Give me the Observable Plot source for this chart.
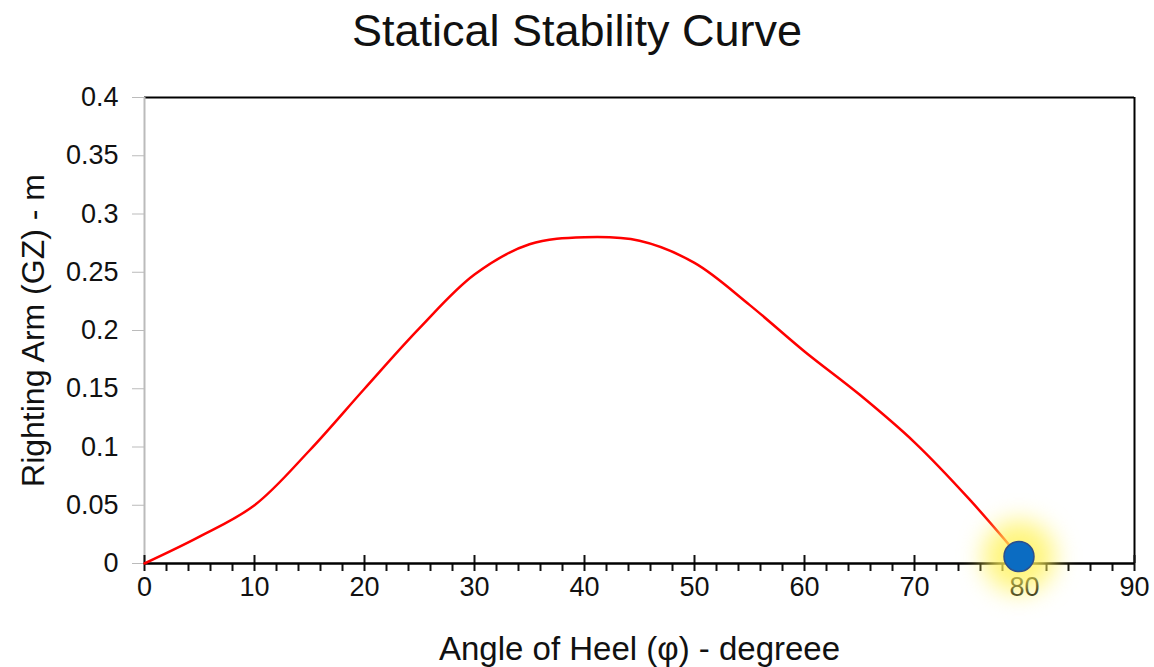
<!DOCTYPE html>
<html><head><meta charset="utf-8">
<script src="https://cdn.jsdelivr.net/npm/d3@7"></script>
<script src="https://cdn.jsdelivr.net/npm/@observablehq/plot@0.6"></script>
<style>
body{margin:0;background:#fff;font-family:"Liberation Sans",Arial,sans-serif;position:relative;}
#title{position:absolute;top:0;left:0;width:1154px;height:60px;text-align:center;font-size:45px;line-height:62px;color:#111;}
</style>
</head><body>
<div id="chart"></div>
<div id="title">Statical Stability Curve</div>
<script>
const angles = [0, 5, 10, 15, 20, 25, 30, 35, 40, 45, 50, 55, 60, 65, 70, 75, 79.5];
const gz     = [0, 0.023, 0.05, 0.097, 0.15, 0.202, 0.248, 0.274, 0.28, 0.277, 0.258, 0.222, 0.182, 0.145, 0.104, 0.055, 0.006];
const endPoint = [{a: 79.5, g: 0.006}];
const xMajor = [0, 10, 20, 30, 40, 50, 60, 70, 80, 90];
const xMinor = d3.range(0, 91, 2).filter(v => v % 10 !== 0);
const yTicks = [0, 0.05, 0.1, 0.15, 0.2, 0.25, 0.3, 0.35, 0.4];

const curve = angles.map((a, i) => ({a, g: gz[i]}));

const chart = Plot.plot({
  width: 1154, height: 667,
  marginLeft: 144, marginRight: 20, marginTop: 97, marginBottom: 104,
  style: {fontFamily: "Liberation Sans, Arial, sans-serif", fontSize: "27px", color: "#111"},
  x: {domain: [0, 90]},
  y: {domain: [0, 0.4]},
  marks: [
    Plot.ruleY([0.4], {stroke: "#000", strokeWidth: 2}),
    Plot.ruleX([90], {stroke: "#000", strokeWidth: 2}),
    Plot.ruleX([0], {stroke: "#bbb", strokeWidth: 2}),
    Plot.axisY({ticks: yTicks, tickSize: 12, stroke: "#bbb", tickPadding: 14, tickFormat: d => String(d), label: null, fontSize: 27, fill: "#111"}),
    Plot.axisX({ticks: xMinor, tickSize: 8, tickFormat: () => "", label: null, strokeWidth: 2}),
    Plot.axisX({ticks: xMajor, tickSize: 8, tickPadding: 5, label: null, strokeWidth: 2, fontSize: 27, tickFormat: d => String(d)}),
    Plot.axisX({ticks: xMajor, tickSize: -8, tickFormat: () => "", label: null, strokeWidth: 2}),
    Plot.ruleY([0], {stroke: "#000", strokeWidth: 2.5}),
    Plot.line(curve, {x: "a", y: "g", stroke: "#ff0000", strokeWidth: 2.5, curve: "catmull-rom"}),
    Plot.dot(endPoint, {x: "a", y: "g", r: 36, fill: "#fff25a", fillOpacity: 0.8, imageFilter: "blur(12px)"}),
    Plot.dot(endPoint, {x: "a", y: "g", r: 15, fill: "#0b6cc2", stroke: "#2c4f8c", strokeWidth: 1.5}),
    Plot.text(["Angle of Heel (φ) - degreee"], {frameAnchor: "bottom", lineAnchor: "middle", dy: 86, fontSize: 33, fill: "#111"}),
    Plot.text(["Righting Arm (GZ) - m"], {frameAnchor: "left", textAnchor: "middle", lineAnchor: "middle", dx: -111, rotate: -90, fontSize: 32, fill: "#111"})
  ]
});
document.getElementById("chart").appendChild(chart);
</script>
</body></html>
